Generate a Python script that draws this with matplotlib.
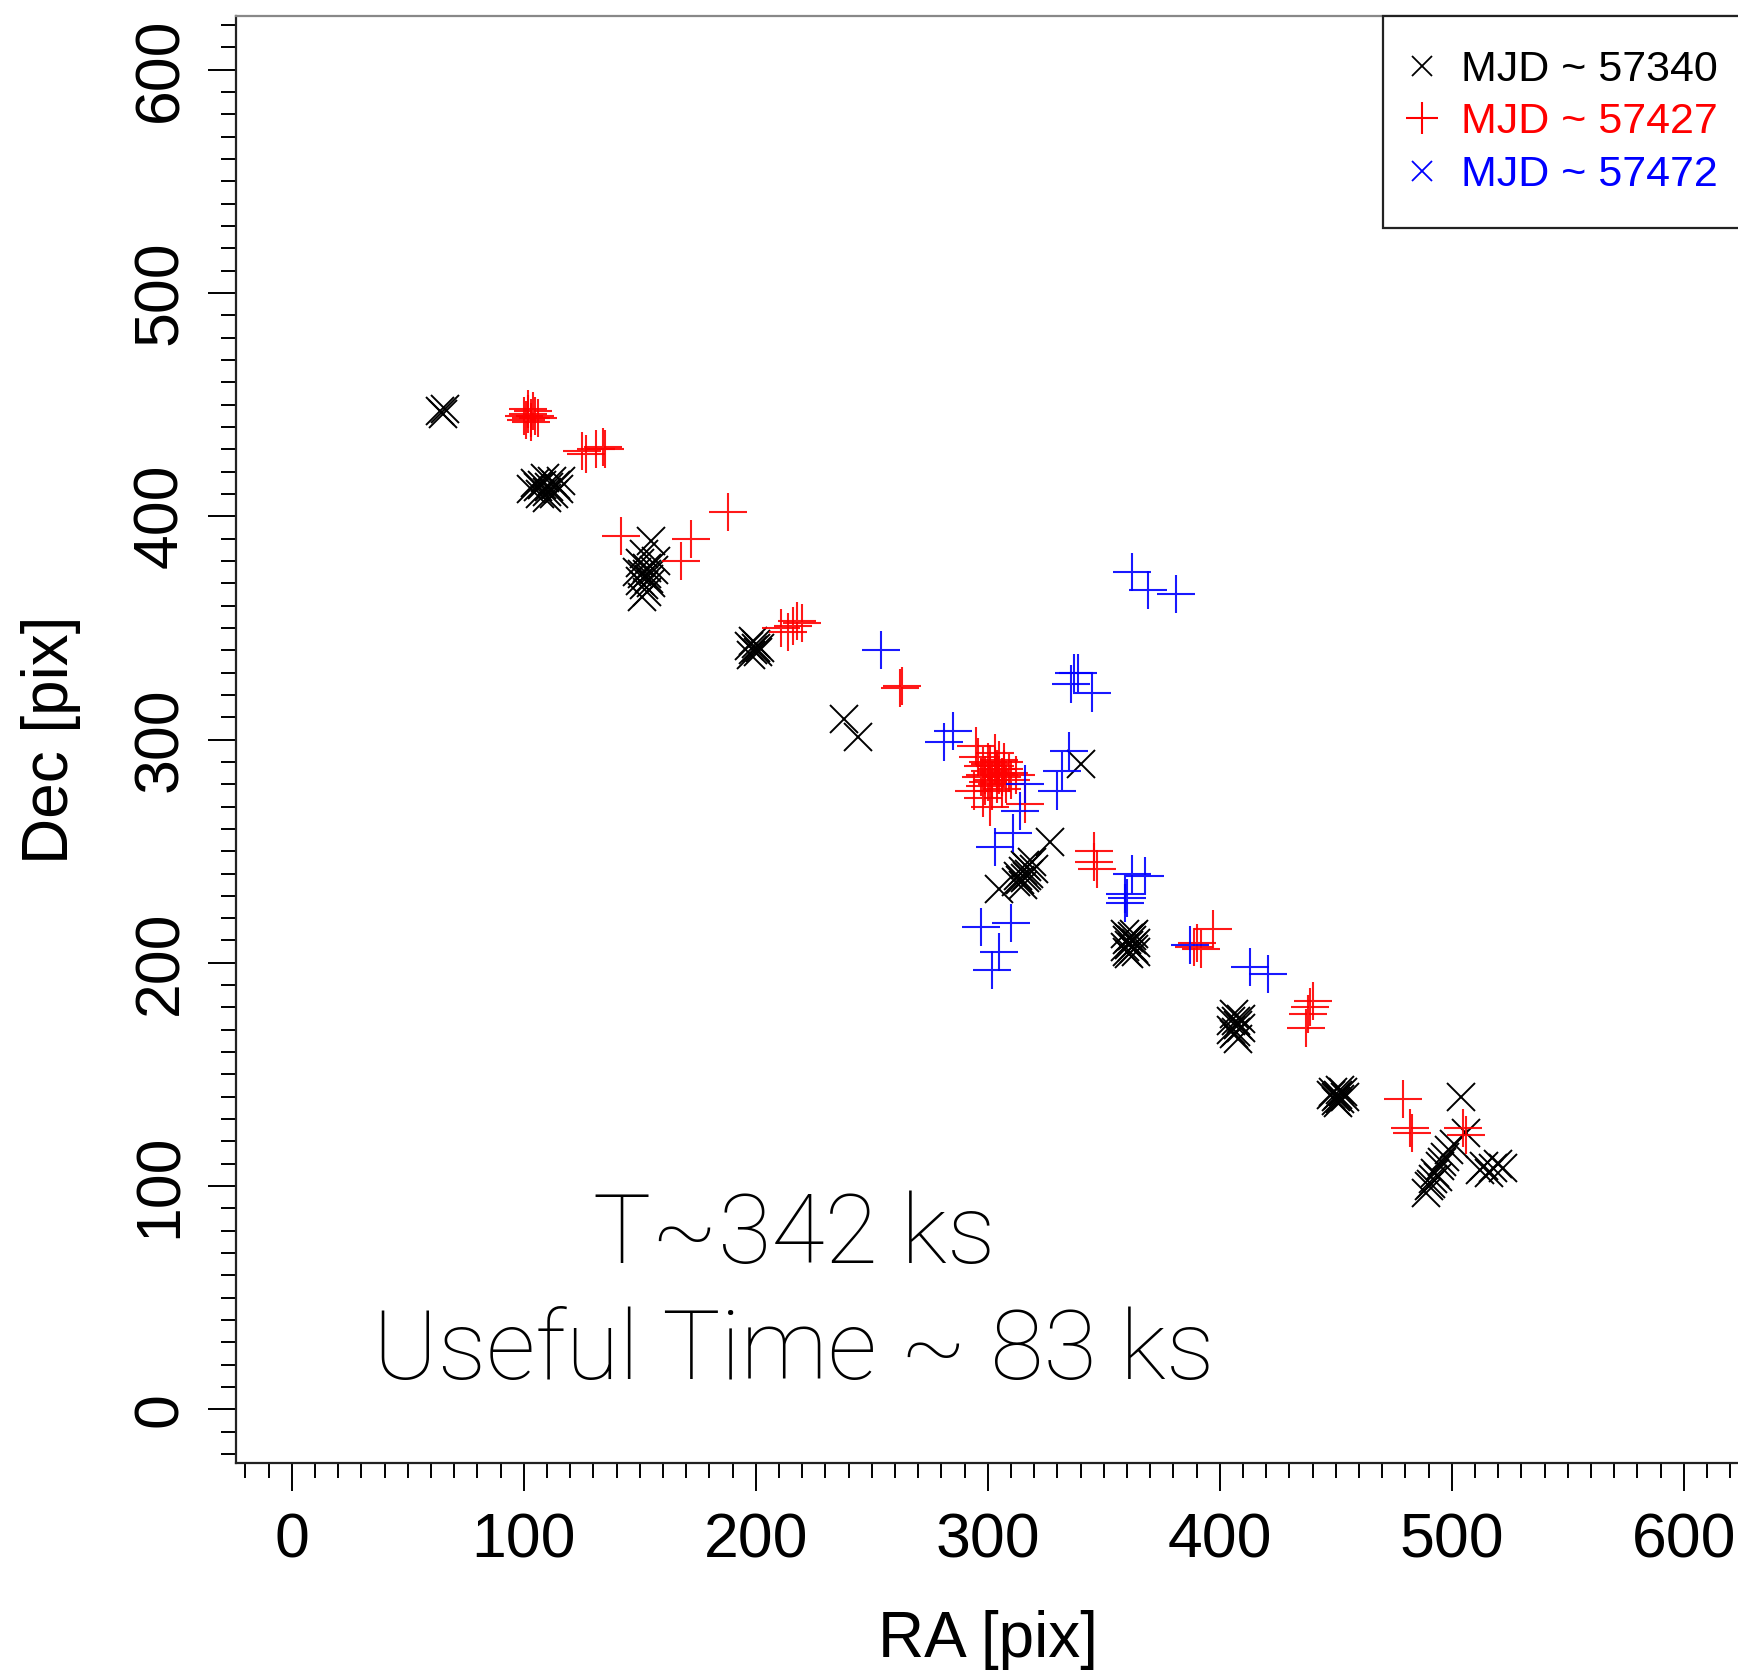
import matplotlib
matplotlib.use('Agg')
import matplotlib.pyplot as plt
from matplotlib.lines import Line2D
from matplotlib.ticker import MultipleLocator

plt.rcParams['font.family'] = ['Liberation Sans', 'DejaVu Sans']

# ---- data (RA, Dec in pixels) ----
black_ra = [64, 66, 65,
            103, 105, 107, 108, 109, 110, 111, 112, 113, 114, 115, 116, 110, 106,
            155, 152, 150, 153, 156, 151, 154, 149, 157, 152, 153, 151, 155, 153, 150,
            197, 199, 200, 201, 198, 202, 199, 200,
            238, 244, 340, 327,
            312, 313, 315, 316, 317, 318, 319, 314, 316, 320, 315, 317,
            305,
            359, 360, 361, 362, 363, 364, 360, 362, 361, 363, 359, 364, 361, 362,
            406, 407, 408, 405, 409, 406, 408, 407, 405, 409,
            449, 450, 451, 452, 453, 450, 452, 454, 448, 451,
            504,
            489, 490, 492, 493, 494, 495, 496, 497, 499, 501, 491, 506,
            512, 514, 516, 520, 522, 518]
black_dec = [447, 448, 446,
             412, 415, 410, 414, 417, 411, 413, 416, 410, 414, 412, 416, 408, 413,
             389, 383, 379, 377, 376, 374, 372, 375, 380, 369, 366, 364, 370, 374, 371,
             342, 340, 343, 339, 338, 341, 344, 341,
             309, 301, 289, 254,
             236, 239, 241, 238, 243, 240, 245, 237, 244, 242, 235, 239,
             233,
             213, 210, 208, 212, 206, 209, 205, 207, 211, 213, 207, 205, 204, 210,
             177, 174, 172, 170, 171, 168, 166, 169, 174, 175,
             142, 140, 141, 139, 142, 138, 143, 140, 141, 137,
             140,
             97, 100, 103, 106, 104, 109, 111, 113, 116, 119, 101, 124,
             107, 109, 106, 110, 108, 108]

red_ra = [100, 101, 102, 103, 104, 105, 103, 102, 106,
          125, 127, 134, 135, 131,
          142, 172, 168, 188,
          211, 214, 218, 220, 216,
          262, 263,
          296, 298, 299, 300, 301, 302, 303, 304, 305, 306, 307, 308, 299, 302, 304, 306,
          309, 310, 303, 300, 305, 307, 301, 304, 312, 297,
          295, 294, 316, 301, 298,
          346, 346, 347,
          390, 392, 397, 389,
          440, 439, 438, 437,
          479, 482, 483, 505, 506]
red_dec = [445, 443, 446, 444, 447, 445, 442, 448, 444,
           429, 428, 431, 430, 430,
           391, 390, 380, 402,
           350, 348, 353, 352, 351,
           323, 324,
           292, 288, 284, 290, 286, 282, 288, 285, 291, 283, 287, 280, 279, 277, 280, 278,
           285, 282, 294, 281, 284, 290, 289, 287, 284, 283,
           297, 277, 271, 270, 274,
           250, 245, 242,
           209, 206, 215, 207,
           183, 180, 177, 171,
           139, 126, 124, 126, 123]

blue_ra = [362, 369, 381,
           254,
           337, 336, 339, 345,
           281, 285,
           316, 314, 311, 303,
           335, 332, 330,
           362, 368, 359, 359, 360,
           297, 310, 305, 302,
           387,
           413, 421]
blue_dec = [375, 367, 365,
            340,
            330, 325, 330, 321,
            299, 304,
            280, 268, 258, 252,
            295, 286, 277,
            240, 239, 231, 227, 229,
            216, 218, 205, 197,
            208,
            198, 195]

legend_labels = ['MJD ~ 57340', 'MJD ~ 57427', 'MJD ~ 57472']
series_colors = ['black', '#ff0000', '#0000ff']
major_ticks = [0, 100, 200, 300, 400, 500, 600]
annot_line1 = 'T~342 ks'
annot_line2 = 'Useful Time ~ 83 ks'

fig = plt.figure(figsize=(17.38, 16.72), dpi=100)
ax = fig.add_axes([0.1358, 0.1250, 0.8650, 0.8654])

ax.plot(black_ra, black_dec, ls='none', marker='x', color=series_colors[0],
        ms=20, mew=1.4)
ax.plot(red_ra, red_dec, ls='none', marker='+', color=series_colors[1],
        ms=28, mew=1.5, alpha=0.9)
ax.plot(blue_ra, blue_dec, ls='none', marker='+', color=series_colors[2],
        ms=27, mew=1.5, alpha=0.9)

ax.set_xlim(-24, 624)
ax.set_ylim(-24, 624)
ax.set_xticks(major_ticks)
ax.set_yticks(major_ticks)
ax.xaxis.set_minor_locator(MultipleLocator(10))
ax.yaxis.set_minor_locator(MultipleLocator(10))
ax.tick_params(which='major', direction='out', length=20, width=1.4,
               labelsize=45, color='black')
ax.tick_params(which='minor', direction='out', length=10.5, width=1.4,
               color='black')
ax.tick_params(axis='x', which='major', pad=15)
ax.tick_params(axis='y', which='major', pad=13, labelrotation=90)
for lab in ax.get_yticklabels():
    lab.set_va('center')

for side in ['left', 'bottom']:
    ax.spines[side].set_linewidth(1.6)
    ax.spines[side].set_color('#222222')
ax.spines['top'].set_linewidth(1.6)
ax.spines['top'].set_color('#888888')
ax.spines['right'].set_visible(False)

ax.set_xlabel('RA [pix]', fontsize=46, labelpad=28)
ax.set_ylabel('Dec [pix]', fontsize=46, labelpad=36)

handles = [
    Line2D([], [], ls='none', marker='x', color=series_colors[0], ms=15, mew=1.3),
    Line2D([], [], ls='none', marker='+', color=series_colors[1], ms=23, mew=1.5),
    Line2D([], [], ls='none', marker='x', color=series_colors[2], ms=14, mew=1.3),
]
leg = ax.legend(handles, legend_labels, loc='upper left',
                bbox_to_anchor=(0.763, 1.0), borderaxespad=0, fontsize=31,
                labelcolor=series_colors, handlelength=0.25, handletextpad=0.78,
                borderpad=0.78, labelspacing=0.29, fancybox=False, framealpha=1,
                edgecolor='#222222', numpoints=1)
leg.get_frame().set_linewidth(1.6)

ax.text(216.5, 65.5, annot_line1, fontsize=70, ha='center', va='baseline',
        family=['Roboto', 'DejaVu Sans'], fontweight='light')
ax.text(216.5, 13.5, annot_line2, fontsize=70, ha='center', va='baseline',
        family=['Roboto', 'DejaVu Sans'], fontweight='light')

fig.savefig('out.png', dpi=100)
